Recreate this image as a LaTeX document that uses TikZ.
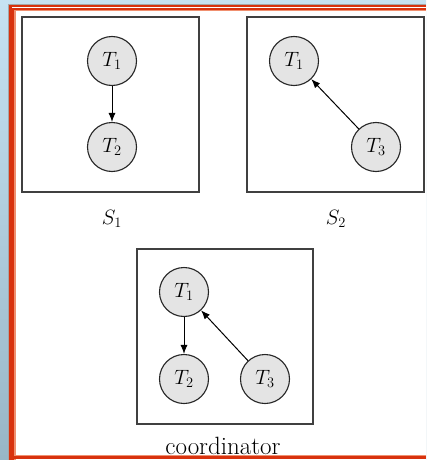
\documentclass[tikz,border=0pt]{standalone}
\usetikzlibrary{arrows.meta}
\definecolor{bgtop}{HTML}{C6E2F2}
\definecolor{bgbot}{HTML}{98B6C6}
\definecolor{fred}{HTML}{D8320E}
\definecolor{fsal}{HTML}{F09070}
\definecolor{circfill}{HTML}{E4E4E4}
\begin{document}
\begin{tikzpicture}[x=1pt,y=-1pt,
  txn/.style={circle,draw=black!85,line width=1.1pt,fill=circfill,minimum size=49pt,inner sep=0pt,font=\fontsize{22}{26}\selectfont},
  sitebox/.style={draw=black!75,line width=1.6pt},
  lbl/.style={font=\fontsize{22}{26}\selectfont,inner sep=0pt},
  arr/.style={line width=1pt,-{Latex[length=9pt,width=7pt]}}]
\useasboundingbox (0,0) rectangle (426,460);
\shade[top color=bgtop,bottom color=bgbot] (0,0) rectangle (426,460);
\fill[white] (8,4) rectangle (426,460);
\fill[gray!70] (8,4) rectangle (426,5);
\fill[gray!70] (8,4) rectangle (9,460);
\fill[fred] (9,5) rectangle (426,7.5);
\fill[fred] (9,5) rectangle (11.5,460);
\fill[fred] (12,8.5) rectangle (426,10.5);
\fill[fred] (12,8.5) rectangle (14,460);
\fill[fsal] (14,10.5) rectangle (426,11.5);
\fill[fsal] (14,10.5) rectangle (15.5,460);
\fill[fsal] (14,455) rectangle (426,456.2);
\fill[fred] (14,456.2) rectangle (426,458.5);
% boxes
\draw[sitebox] (22,17) rectangle (199,192);
\draw[sitebox] (247,17) rectangle (424,192);
\draw[sitebox] (137,249) rectangle (313,424);
% S1
\node[txn] (a1) at (112,61) {$T_1$};
\node[txn] (a2) at (112,147) {$T_2$};
\draw[arr] (a1) -- (a2);
\node[lbl] (s1) at (112,219) {$S_1$};
% S2
\node[txn] (b1) at (294,61) {$T_1$};
\node[txn] (b3) at (376,147) {$T_3$};
\draw[arr] (b3) -- (b1);
\node[lbl] (s2) at (336,219) {$S_2$};
% coordinator
\node[txn] (c1) at (184,292) {$T_1$};
\node[txn] (c2) at (184,379) {$T_2$};
\node[txn] (c3) at (265,379) {$T_3$};
\draw[arr] (c1) -- (c2);
\draw[arr] (c3) -- (c1);
\node[font=\fontsize{25}{30}\selectfont,inner sep=0pt] (co) at (223,446) {coordinator};
\end{tikzpicture}
\end{document}
